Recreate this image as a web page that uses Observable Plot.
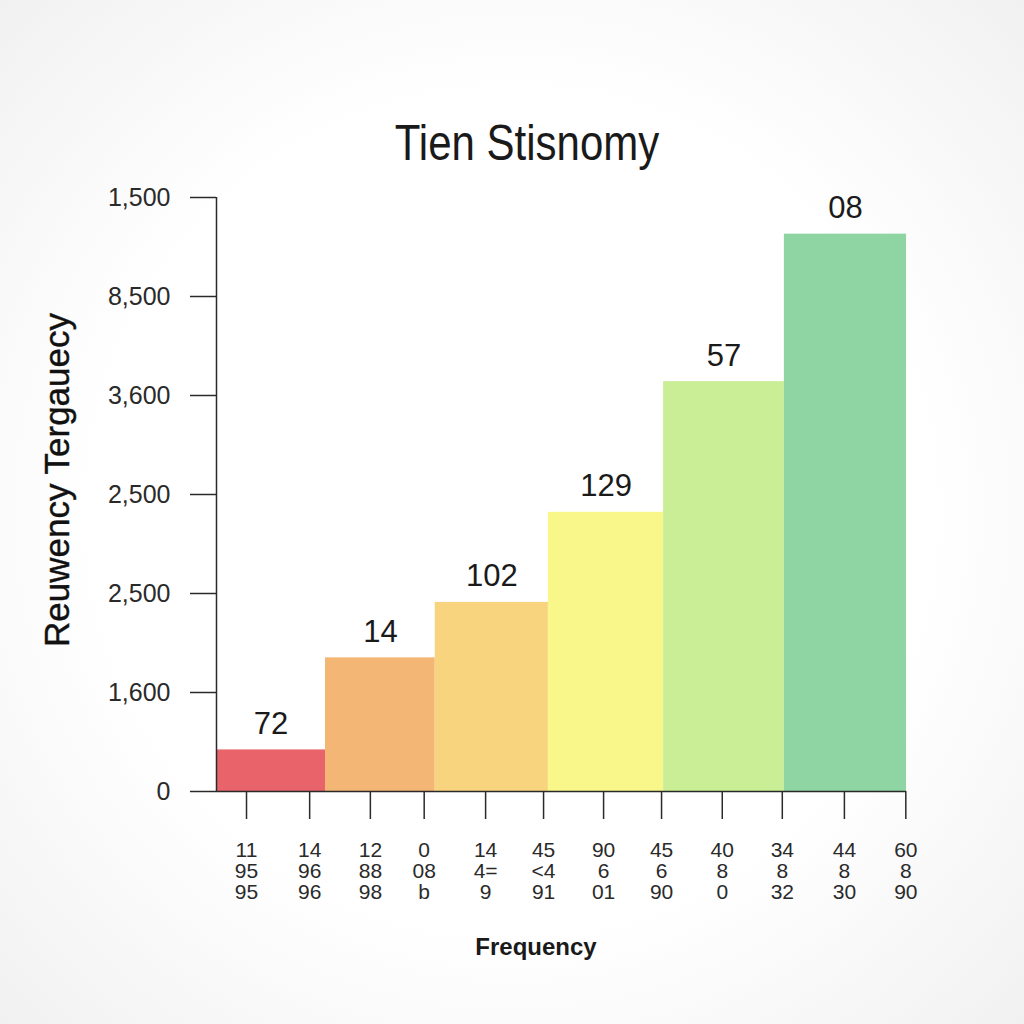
<!DOCTYPE html>
<html><head><meta charset="utf-8">
<script src="https://cdn.jsdelivr.net/npm/d3@7"></script>
<script src="https://cdn.jsdelivr.net/npm/@observablehq/plot@0.6"></script>
<style>
html,body{margin:0;padding:0;}
body{width:1024px;height:1024px;overflow:hidden;background:radial-gradient(ellipse at 50% 50%, #ffffff 58%, #f1f1f1 100%);font-family:"Liberation Sans",Arial,sans-serif;color:#222;}
#wrap{position:relative;width:1024px;height:1024px;}
#title{position:absolute;left:527px;top:118px;transform:translateX(-50%) scaleX(0.84);white-space:nowrap;font-size:50px;line-height:50px;color:#1a1a1a;}
#chart{position:absolute;left:0;top:170px;}
#ylab{position:absolute;left:57px;top:480px;transform:translate(-50%,-50%) rotate(-90deg);white-space:nowrap;font-size:35px;color:#111;-webkit-text-stroke:0.4px #111;}
#xlab{position:absolute;left:0;top:934px;width:1072px;text-align:center;font-size:24px;font-weight:bold;line-height:26px;color:#1a1a1a;}
</style>
</head><body>
<div id="wrap">
  <div id="title"></div>
  <div id="chart"></div>
  <div id="ylab"></div>
  <div id="xlab"></div>
</div>
<script>
const titleText = "Tien Stisnomy";
const yAxisTitle = "Reuwency Tergauecy";
const xAxisTitle = "Frequency";

// bars (bins): edges along x, heights in y-tick units, labels on top, colours
const binEdges = [0, 15.8, 31.7, 48.1, 64.8, 82.3, 100];
const barValues = [0.42, 1.35, 1.91, 2.82, 4.14, 5.63];
const barLabels = ["72", "14", "102", "129", "57", "08"];
const barColors = ["#e8636a", "#f4b674", "#f8d47e", "#f9f78a", "#c9ee95", "#8fd5a3"];

// y ticks (evenly spaced, labelled as printed)
const yTickValues = [0, 1, 2, 3, 4, 5, 6];
const yTickLabels = ["0", "1,600", "2,500", "2,500", "3,600", "8,500", "1,500"];

// x ticks
const xTickPos = [4.35, 13.5, 22.3, 30.1, 39.0, 47.4, 56.1, 64.5, 73.3, 82.0, 91.0, 99.9];
const xTickLabels = [
  "11\n95\n95", "14\n96\n96", "12\n88\n98", "0\n08\nb",
  "14\n4=\n9", "45\n<4\n91", "90\n6\n01", "45\n6\n90",
  "40\n8\n0", "34\n8\n32", "44\n8\n30", "60\n8\n90"
];

document.getElementById("title").textContent = titleText;
document.getElementById("ylab").textContent = yAxisTitle;
document.getElementById("xlab").textContent = xAxisTitle;

const bars = barValues.map((v, i) => ({
  x1: binEdges[i], x2: binEdges[i + 1], mid: (binEdges[i] + binEdges[i + 1]) / 2,
  v, label: barLabels[i], color: barColors[i]
}));

const chart = Plot.plot({
  width: 1024,
  height: 750,
  marginLeft: 216,
  marginRight: 118,
  marginTop: 27,
  marginBottom: 129,
  style: {background: "transparent", color: "#2a2a2a", fontFamily: "'Liberation Sans', Arial, sans-serif", overflow: "visible"},
  x: {domain: [0, 100]},
  y: {domain: [0, 6]},
  marks: [
    Plot.rectY(bars, {x1: "x1", x2: "x2", y1: 0, y2: "v", fill: "color"}),
    Plot.text(bars, {x: "mid", y: "v", text: "label", dy: -26, fontSize: 31, fill: "#1a1a1a"}),
    Plot.ruleX([0], {y1: 0, y2: 6, stroke: "#2a2a2a", strokeWidth: 1.5}),
    Plot.ruleY([0], {stroke: "#2a2a2a", strokeWidth: 1.5}),
    Plot.axisY({ticks: yTickValues, tickFormat: d => yTickLabels[d], tickSize: 26, tickPadding: 20, fontSize: 25, strokeWidth: 1.5, label: null}),
    Plot.axisX({ticks: xTickPos, tickFormat: d => xTickLabels[xTickPos.indexOf(d)], tickSize: 28, tickPadding: 23, fontSize: 21, lineHeight: 1.0, strokeWidth: 1.5, label: null})
  ]
});
document.getElementById("chart").appendChild(chart);
</script>
</body></html>
